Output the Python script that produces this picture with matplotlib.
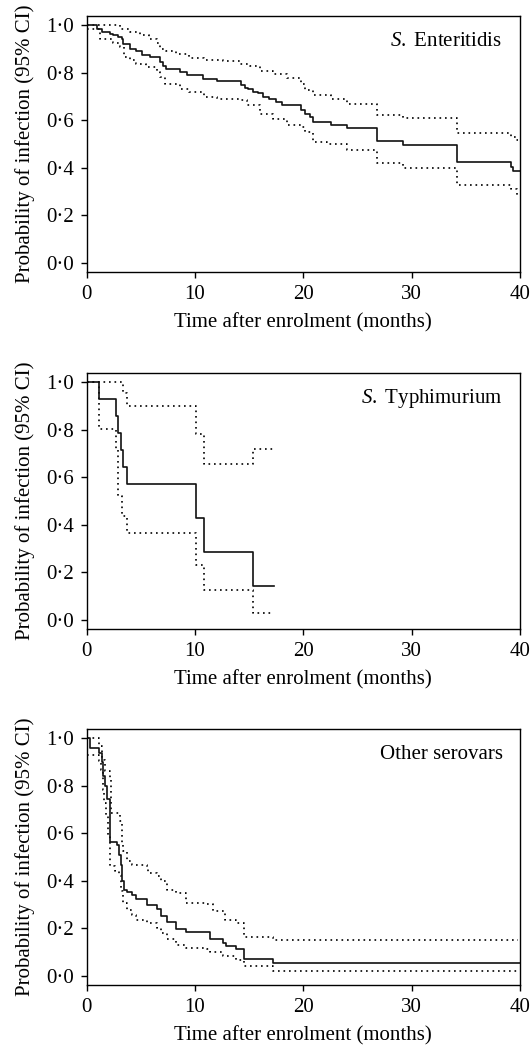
import matplotlib
matplotlib.use("Agg")
import matplotlib.pyplot as plt
from matplotlib.ticker import FuncFormatter

plt.rcParams["font.family"] = ["Liberation Serif", "DejaVu Serif"]
plt.rcParams["mathtext.fontset"] = "custom"
plt.rcParams["mathtext.rm"] = "Liberation Serif"
plt.rcParams["mathtext.it"] = "Liberation Serif:italic"

# S. Enteritidis
ent_t = [0, 0.92, 1.38, 2.15, 2.46, 2.92, 3.23, 3.38, 4.0, 4.6, 5.08, 5.85, 6.77, 7.08, 7.32,
         8.6, 9.23, 10.77, 12.0, 14.3, 14.6, 14.9, 15.4, 15.8, 16.3, 16.8, 17.5, 18.0, 19.8,
         20.2, 20.6, 20.9, 22.6, 24.0, 26.8, 29.2, 34.2, 39.2, 39.4]
ent_s = [1.0, 0.985, 0.97, 0.965, 0.958, 0.95, 0.94, 0.92, 0.90, 0.89, 0.875, 0.866, 0.845,
         0.827, 0.817, 0.803, 0.789, 0.772, 0.764, 0.747, 0.736, 0.73, 0.72, 0.713, 0.698,
         0.69, 0.676, 0.662, 0.641, 0.627, 0.612, 0.592, 0.578, 0.567, 0.512, 0.494, 0.423,
         0.405, 0.385]
ent_end = 40
ent_up_t = [0, 3.1, 4.0, 4.9, 5.8, 6.5, 6.8, 7.3, 8.3, 9.5, 10.8, 12.6, 14.2, 15.1, 16.0,
            17.2, 18.5, 19.8, 20.2, 20.9, 22.6, 24.0, 26.8, 29.2, 34.2, 39.2, 39.6]
ent_up = [1.0, 0.986, 0.972, 0.958, 0.944, 0.925, 0.90, 0.89, 0.878, 0.864, 0.852, 0.848,
          0.838, 0.827, 0.807, 0.793, 0.779, 0.754, 0.729, 0.705, 0.69, 0.67, 0.623, 0.61,
          0.547, 0.529, 0.515]
ent_lo_t = [0, 1.2, 2.4, 3.1, 3.5, 4.0, 4.6, 5.5, 6.5, 6.8, 7.2, 8.6, 9.5, 10.8, 12.0, 14.2,
            14.8, 16.0, 17.2, 18.5, 19.8, 20.2, 20.9, 22.2, 24.0, 26.8, 29.2, 34.2, 39.2, 39.7]
ent_lo = [0.982, 0.94, 0.925, 0.91, 0.866, 0.852, 0.838, 0.824, 0.803, 0.782, 0.754, 0.733,
          0.719, 0.698, 0.69, 0.684, 0.662, 0.627, 0.606, 0.578, 0.571, 0.55, 0.508, 0.498,
          0.475, 0.42, 0.40, 0.329, 0.311, 0.283]

# S. Typhimurium
typ_t = [0, 1.17, 2.7, 2.9, 3.2, 3.4, 3.7, 10.1, 10.8, 15.4]
typ_s = [1.0, 0.929, 0.857, 0.786, 0.714, 0.643, 0.571, 0.429, 0.286, 0.143]
typ_end = 17.3
typ_up_t = [0, 3.4, 3.7, 10.1, 10.8, 15.4]
typ_up = [1.0, 0.955, 0.899, 0.784, 0.654, 0.72]
typ_lo_t = [0, 1.17, 2.7, 2.9, 3.3, 3.7, 10.1, 10.8, 15.4]
typ_lo = [1.0, 0.804, 0.72, 0.521, 0.437, 0.365, 0.23, 0.125, 0.027]
typ_lo_end = 17.1

# Other serovars
oth_t = [0, 0.3, 1.17, 1.4, 1.55, 1.7, 1.85, 2.2, 2.8, 3.0, 3.15, 3.3, 3.5, 3.78, 4.15, 4.6,
         5.6, 6.46, 6.9, 7.4, 8.3, 9.2, 11.4, 12.6, 12.9, 13.8, 14.5, 17.2]
oth_s = [1.0, 0.959, 0.938, 0.90, 0.84, 0.80, 0.744, 0.562, 0.552, 0.51, 0.468, 0.397, 0.36,
         0.351, 0.341, 0.324, 0.296, 0.282, 0.253, 0.226, 0.197, 0.184, 0.154, 0.138, 0.126,
         0.112, 0.070, 0.053]
oth_end = 40
oth_up_t = [0, 1.17, 1.4, 1.7, 2.15, 2.3, 3.05, 3.23, 3.38, 3.7, 4.15, 5.6, 5.7, 6.46, 6.9,
            7.4, 8.3, 9.2, 11.1, 11.7, 12.8, 13.8, 14.5, 17.2]
oth_up = [1.0, 0.966, 0.91, 0.861, 0.833, 0.685, 0.65, 0.559, 0.524, 0.482, 0.468, 0.454,
          0.433, 0.419, 0.397, 0.362, 0.348, 0.306, 0.303, 0.271, 0.236, 0.222, 0.163, 0.149]
oth_lo_t = [0, 1.17, 1.3, 1.48, 1.63, 1.78, 2.0, 2.2, 2.62, 3.02, 3.17, 3.38, 3.78, 4.15, 4.6,
            5.6, 6.46, 6.9, 7.4, 8.3, 9.2, 11.1, 11.4, 12.6, 13.8, 14.5, 17.2]
oth_lo = [0.931, 0.903, 0.868, 0.784, 0.728, 0.678, 0.587, 0.461, 0.44, 0.426, 0.355, 0.306,
          0.278, 0.257, 0.236, 0.222, 0.201, 0.18, 0.154, 0.131, 0.117, 0.112, 0.098, 0.081,
          0.067, 0.039, 0.018]

panels = [
    ("$\\mathit{S.}$ Enteritidis", (ent_t, ent_s, ent_end), (ent_up_t, ent_up, 39.8),
     (ent_lo_t, ent_lo, 39.8)),
    ("$\\mathit{S.}$ Typhimurium", (typ_t, typ_s, typ_end), (typ_up_t, typ_up, typ_end),
     (typ_lo_t, typ_lo, typ_lo_end)),
    ("Other serovars", (oth_t, oth_s, oth_end), (oth_up_t, oth_up, 39.8),
     (oth_lo_t, oth_lo, 39.8)),
]


def step(ax, t, v, end, **kw):
    ax.step(list(t) + [end], list(v) + [v[-1]], where="post", **kw)


fig = plt.figure(figsize=(5.31, 10.47), dpi=100)
bottoms = [0.740, 0.399, 0.059]
fmt = FuncFormatter(lambda v, p: f"{v:.1f}".replace(".", "\u00b7"))

for (title, solid, up, lo), b in zip(panels, bottoms):
    ax = fig.add_axes([0.163, b, 0.816, 0.245])
    step(ax, *up, color="black", lw=1.2, linestyle=(0, (1, 2.3)))
    step(ax, *lo, color="black", lw=1.2, linestyle=(0, (1, 2.3)))
    step(ax, *solid, color="#111111", lw=1.2)
    ax.set_xlim(0, 40)
    ax.set_ylim(-0.04, 1.04)
    ax.set_xticks([0, 10, 20, 30, 40])
    ax.set_yticks([0, 0.2, 0.4, 0.6, 0.8, 1.0])
    ax.yaxis.set_major_formatter(fmt)
    ax.tick_params(direction="out", length=4, width=1, labelsize=15, pad=5)
    for sp in ax.spines.values():
        sp.set_linewidth(1)
    ax.set_xlabel("Time after enrolment (months)", fontsize=15, labelpad=7)
    ax.set_ylabel("Probability of infection (95% CI)", fontsize=15, labelpad=8)
    ax.text(0.96, 0.90, title, transform=ax.transAxes, ha="right", va="center", fontsize=15)

fig.savefig("out.png", dpi=100)
